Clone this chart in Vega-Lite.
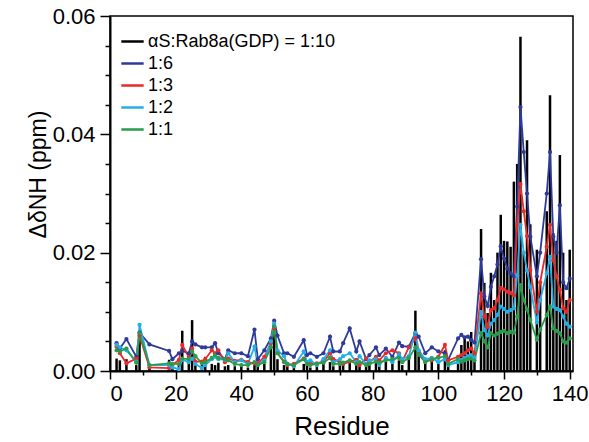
{
  "$schema": "https://vega.github.io/schema/vega-lite/v6.json",
  "width": 463,
  "height": 355,
  "autosize": {"type": "none"},
  "padding": {"left": 110, "top": 16, "right": 16, "bottom": 71},
  "config": {
    "font": "Liberation Sans",
    "view": {"stroke": "black", "strokeWidth": 1.5},
    "axis": {"grid": false, "domainColor": "black", "domainWidth": 2, "tickColor": "black", "tickWidth": 1.5, "labelColor": "black", "titleColor": "black", "labelFont": "Liberation Sans", "titleFont": "Liberation Sans", "titleFontWeight": "normal"}
  },
  "data": {"values": [
    {"r":2,"a":0.0021,"b":0.0047,"c":0.0041,"d":0.0044,"e":0.0035},
    {"r":3,"a":0.0018,"b":0.0038,"c":0.0030,"d":0.0040,"e":0.0033},
    {"r":5,"a":0.0020,"b":0.0054,"c":0.0013,"d":0.0035,"e":0.0038},
    {"r":8,"a":0.0010,"b":0.0024,"c":0.0021,"d":0.0016,"e":0.0014},
    {"r":9,"a":0.0060,"b":0.0065,"c":0.0060,"d":0.0078,"e":0.0064},
    {"r":12,"a":0.0008,"b":0.0045,"c":0.0006,"d":0.0010,"e":0.0010},
    {"r":18,"a":0.0019,"b":0.0034,"c":0.0005,"d":0.0010,"e":0.0013},
    {"r":19,"a":0.0010,"b":0.0020,"c":0.0010,"d":0.0006,"e":0.0012},
    {"r":21,"a":0.0012,"b":0.0030,"c":0.0019,"d":0.0003,"e":0.0012},
    {"r":22,"a":0.0068,"b":0.0034,"c":0.0044,"d":0.0019,"e":0.0021},
    {"r":24,"a":0.0020,"b":0.0030,"c":0.0024,"d":0.0015,"e":0.0020},
    {"r":25,"a":0.0086,"b":0.0050,"c":0.0038,"d":0.0021,"e":0.0033},
    {"r":26,"a":0.0015,"b":0.0045,"c":0.0016,"d":0.0012,"e":0.0025},
    {"r":28,"a":0.0010,"b":0.0040,"c":0.0016,"d":0.0005,"e":0.0013},
    {"r":29,"a":0.0024,"b":0.0040,"c":0.0020,"d":0.0010,"e":0.0015},
    {"r":31,"a":0.0012,"b":0.0040,"c":0.0035,"d":0.0020,"e":0.0022},
    {"r":32,"a":0.0010,"b":0.0047,"c":0.0030,"d":0.0024,"e":0.0027},
    {"r":33,"a":0.0014,"b":0.0030,"c":0.0035,"d":0.0020,"e":0.0022},
    {"r":35,"a":0.0008,"b":0.0020,"c":0.0015,"d":0.0019,"e":0.0020},
    {"r":36,"a":0.0010,"b":0.0035,"c":0.0021,"d":0.0030,"e":0.0018},
    {"r":38,"a":0.0008,"b":0.0030,"c":0.0017,"d":0.0015,"e":0.0012},
    {"r":40,"a":0.0012,"b":0.0030,"c":0.0019,"d":0.0018,"e":0.0010},
    {"r":42,"a":0.0006,"b":0.0025,"c":0.0015,"d":0.0012,"e":0.0010},
    {"r":44,"a":0.0010,"b":0.0070,"c":0.0013,"d":0.0041,"e":0.0015},
    {"r":45,"a":0.0010,"b":0.0020,"c":0.0013,"d":0.0010,"e":0.0010},
    {"r":47,"a":0.0012,"b":0.0035,"c":0.0024,"d":0.0018,"e":0.0015},
    {"r":49,"a":0.0045,"b":0.0055,"c":0.0047,"d":0.0050,"e":0.0040},
    {"r":50,"a":0.0083,"b":0.0085,"c":0.0072,"d":0.0080,"e":0.0075},
    {"r":51,"a":0.0020,"b":0.0060,"c":0.0030,"d":0.0035,"e":0.0030},
    {"r":53,"a":0.0010,"b":0.0030,"c":0.0016,"d":0.0025,"e":0.0015},
    {"r":54,"a":0.0008,"b":0.0030,"c":0.0010,"d":0.0012,"e":0.0012},
    {"r":56,"a":0.0010,"b":0.0024,"c":0.0012,"d":0.0008,"e":0.0010},
    {"r":59,"a":0.0012,"b":0.0052,"c":0.0021,"d":0.0033,"e":0.0020},
    {"r":60,"a":0.0010,"b":0.0027,"c":0.0012,"d":0.0015,"e":0.0012},
    {"r":61,"a":0.0006,"b":0.0030,"c":0.0012,"d":0.0018,"e":0.0010},
    {"r":63,"a":0.0008,"b":0.0024,"c":0.0013,"d":0.0010,"e":0.0012},
    {"r":65,"a":0.0012,"b":0.0030,"c":0.0015,"d":0.0020,"e":0.0014},
    {"r":67,"a":0.0015,"b":0.0058,"c":0.0030,"d":0.0035,"e":0.0022},
    {"r":68,"a":0.0008,"b":0.0033,"c":0.0020,"d":0.0015,"e":0.0012},
    {"r":70,"a":0.0010,"b":0.0033,"c":0.0015,"d":0.0020,"e":0.0012},
    {"r":71,"a":0.0012,"b":0.0047,"c":0.0012,"d":0.0025,"e":0.0014},
    {"r":73,"a":0.0015,"b":0.0072,"c":0.0016,"d":0.0030,"e":0.0018},
    {"r":75,"a":0.0010,"b":0.0033,"c":0.0019,"d":0.0015,"e":0.0012},
    {"r":76,"a":0.0008,"b":0.0050,"c":0.0010,"d":0.0025,"e":0.0015},
    {"r":78,"a":0.0012,"b":0.0020,"c":0.0021,"d":0.0012,"e":0.0010},
    {"r":79,"a":0.0010,"b":0.0027,"c":0.0015,"d":0.0018,"e":0.0012},
    {"r":81,"a":0.0015,"b":0.0040,"c":0.0024,"d":0.0020,"e":0.0016},
    {"r":82,"a":0.0012,"b":0.0027,"c":0.0018,"d":0.0010,"e":0.0014},
    {"r":84,"a":0.0022,"b":0.0038,"c":0.0030,"d":0.0022,"e":0.0018},
    {"r":86,"a":0.0015,"b":0.0024,"c":0.0035,"d":0.0015,"e":0.0020},
    {"r":88,"a":0.0018,"b":0.0048,"c":0.0030,"d":0.0028,"e":0.0022},
    {"r":89,"a":0.0010,"b":0.0042,"c":0.0016,"d":0.0020,"e":0.0015},
    {"r":91,"a":0.0020,"b":0.0041,"c":0.0040,"d":0.0025,"e":0.0022},
    {"r":93,"a":0.0102,"b":0.0064,"c":0.0055,"d":0.0065,"e":0.0040},
    {"r":94,"a":0.0025,"b":0.0058,"c":0.0032,"d":0.0035,"e":0.0028},
    {"r":96,"a":0.0018,"b":0.0030,"c":0.0018,"d":0.0020,"e":0.0015},
    {"r":98,"a":0.0025,"b":0.0040,"c":0.0018,"d":0.0022,"e":0.0020},
    {"r":100,"a":0.0012,"b":0.0033,"c":0.0024,"d":0.0015,"e":0.0022},
    {"r":102,"a":0.0035,"b":0.0030,"c":0.0044,"d":0.0020,"e":0.0025},
    {"r":103,"a":0.0012,"b":0.0019,"c":0.0018,"d":0.0010,"e":0.0012},
    {"r":106,"a":0.0025,"b":0.0055,"c":0.0024,"d":0.0015,"e":0.0020},
    {"r":107,"a":0.0044,"b":0.0061,"c":0.0027,"d":0.0019,"e":0.0016},
    {"r":108,"a":0.0058,"b":0.0057,"c":0.0030,"d":0.0022,"e":0.0018},
    {"r":109,"a":0.0050,"b":0.0058,"c":0.0035,"d":0.0025,"e":0.0020},
    {"r":110,"a":0.0066,"b":0.0052,"c":0.0038,"d":0.0027,"e":0.0021},
    {"r":111,"a":0.0030,"b":0.0048,"c":0.0030,"d":0.0022,"e":0.0018},
    {"r":113,"a":0.0240,"b":0.0189,"c":0.0131,"d":0.0100,"e":0.0064},
    {"r":114,"a":0.0149,"b":0.0126,"c":0.0092,"d":0.0069,"e":0.0050},
    {"r":115,"a":0.0098,"b":0.0110,"c":0.0075,"d":0.0060,"e":0.0040},
    {"r":116,"a":0.0166,"b":0.0142,"c":0.0103,"d":0.0080,"e":0.0064},
    {"r":117,"a":0.0120,"b":0.0160,"c":0.0106,"d":0.0086,"e":0.0060},
    {"r":118,"a":0.0200,"b":0.0180,"c":0.0120,"d":0.0095,"e":0.0063},
    {"r":119,"a":0.0264,"b":0.0211,"c":0.0140,"d":0.0109,"e":0.0066},
    {"r":120,"a":0.0220,"b":0.0190,"c":0.0138,"d":0.0105,"e":0.0068},
    {"r":121,"a":0.0219,"b":0.0173,"c":0.0134,"d":0.0100,"e":0.0064},
    {"r":122,"a":0.0210,"b":0.0165,"c":0.0132,"d":0.0103,"e":0.0066},
    {"r":123,"a":0.0320,"b":0.0160,"c":0.0128,"d":0.0106,"e":0.0065},
    {"r":124,"a":0.0350,"b":0.0278,"c":0.0247,"d":0.0162,"e":0.0092},
    {"r":125,"a":0.0565,"b":0.0446,"c":0.0316,"d":0.0247,"e":0.0145},
    {"r":126,"a":0.0200,"b":0.0370,"c":0.0270,"d":0.0200,"e":0.0120},
    {"r":127,"a":0.0390,"b":0.0300,"c":0.0228,"d":0.0170,"e":0.0104},
    {"r":128,"a":0.0248,"b":0.0227,"c":0.0171,"d":0.0142,"e":0.0086},
    {"r":130,"a":0.0205,"b":0.0160,"c":0.0100,"d":0.0082,"e":0.0053},
    {"r":131,"a":0.0150,"b":0.0200,"c":0.0150,"d":0.0120,"e":0.0070},
    {"r":133,"a":0.0270,"b":0.0300,"c":0.0210,"d":0.0165,"e":0.0095},
    {"r":134,"a":0.0466,"b":0.0370,"c":0.0247,"d":0.0193,"e":0.0109},
    {"r":135,"a":0.0233,"b":0.0227,"c":0.0187,"d":0.0109,"e":0.0072},
    {"r":136,"a":0.0220,"b":0.0200,"c":0.0160,"d":0.0105,"e":0.0068},
    {"r":137,"a":0.0365,"b":0.0280,"c":0.0137,"d":0.0103,"e":0.0064},
    {"r":138,"a":0.0200,"b":0.0150,"c":0.0106,"d":0.0092,"e":0.0050},
    {"r":139,"a":0.0120,"b":0.0140,"c":0.0100,"d":0.0080,"e":0.0048},
    {"r":140,"a":0.0205,"b":0.0156,"c":0.0120,"d":0.0075,"e":0.0055}
  ]},
  "layer": [
    {
      "mark": {"type": "rule", "strokeWidth": 2.5},
      "encoding": {
        "x": {"field": "r", "type": "quantitative"},
        "y": {"field": "a", "type": "quantitative"},
        "y2": {"datum": 0},
        "color": {"datum": "a", "type": "nominal"}
      }
    },
    {
      "transform": [{"fold": ["b", "c", "d", "e"]}],
      "mark": {"type": "line", "strokeWidth": 1.8, "point": {"filled": true, "size": 18}},
      "encoding": {
        "x": {"field": "r", "type": "quantitative"},
        "y": {"field": "value", "type": "quantitative"},
        "color": {"field": "key", "type": "nominal"}
      }
    }
  ],
  "resolve": {"scale": {"color": "shared"}},
  "encoding": {
    "x": {
      "field": "r", "type": "quantitative",
      "scale": {"domain": [0, 141], "nice": false},
      "axis": {
        "title": "Residue", "titleFontSize": 26, "titleY": 63, "titleBaseline": "alphabetic",
        "values": [0,10,20,30,40,50,60,70,80,90,100,110,120,130,140],
        "labelExpr": "datum.value % 20 === 0 ? datum.label : ''",
        "labelFontSize": 22, "labelPadding": 4,
        "tickSize": {"condition": {"test": "datum.value % 20 === 0", "value": 8}, "value": 4}
      }
    },
    "y": {
      "type": "quantitative",
      "scale": {"domain": [0, 0.06], "nice": false},
      "axis": {
        "title": "ΔδNH (ppm)", "titleFontSize": 23, "titleX": -72, "titleY": 158, "titleAngle": -90,
        "titleAlign": "center", "titleBaseline": "middle",
        "values": [0,0.005,0.01,0.015,0.02,0.025,0.03,0.035,0.04,0.045,0.05,0.055,0.06],
        "labelExpr": "round(datum.value*1000) % 20 === 0 ? format(datum.value, '.2f') : ''",
        "labelFontSize": 22, "labelPadding": 5,
        "tickSize": {"condition": {"test": "round(datum.value*1000) % 20 === 0", "value": 10}, "value": 5}
      }
    },
    "color": {
      "scale": {"domain": ["a", "b", "c", "d", "e"], "range": ["#000000", "#2e3a9a", "#ea2a2a", "#23aee6", "#2a9c4a"]},
      "legend": {
        "title": null, "orient": "none", "legendX": 10, "legendY": 13,
        "symbolType": "stroke", "symbolStrokeWidth": 2.5, "symbolSize": 500,
        "labelFontSize": 18, "labelColor": "black", "labelOffset": 3, "rowPadding": 0, "labelLimit": 400,
        "labelExpr": "{'a':'αS:Rab8a(GDP) = 1:10','b':'1:6','c':'1:3','d':'1:2','e':'1:1'}[datum.label]"
      }
    }
  }
}
